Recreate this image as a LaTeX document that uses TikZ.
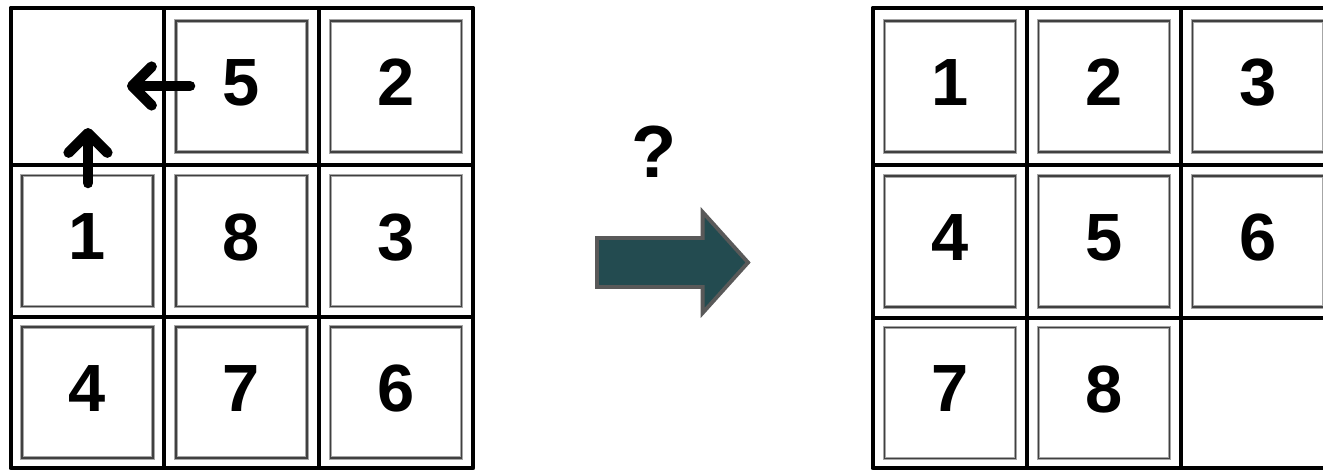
\documentclass[tikz,border=0pt]{standalone}
\usepackage{fontspec}
\setmainfont{Liberation Sans}
\usetikzlibrary{arrows.meta,shapes.arrows}
\definecolor{slate}{HTML}{234B50}
\definecolor{rim}{HTML}{595959}
\tikzset{
  grid/.style={line width=1.4pt, line join=round},
  tile/.style={draw=black!75, line width=0.35pt, preaction={draw=gray!70, line width=1.1pt},
    minimum width=1.31cm, minimum height=1.31cm, inner sep=0pt, text depth=0.08cm,
    font=\fontsize{19pt}{19pt}\selectfont\bfseries},
  move/.style={line width=3pt, line cap=round, line join=round,
    -{Straight Barb[length=5.5pt,width=11pt,round]}},
}
\begin{document}
\begin{tikzpicture}[x=0.01cm, y=-0.01cm]
\clip (0,0) rectangle (1323,470);
% start board
\draw[grid] (11,8) rectangle (473,468);
\draw[grid] (164,8) -- (164,468);
\draw[grid] (319,8) -- (319,468);
\draw[grid] (11,165) -- (473,165);
\draw[grid] (11,317) -- (473,317);
\node[tile] (a5) at (241.5,86.5) {5};
\node[tile] (a2) at (396,86.5) {2};
\node[tile] (a1) at (87.5,241) {1};
\node[tile] (a8) at (241.5,241) {8};
\node[tile] (a3) at (396,241) {3};
\node[tile] (a4) at (87.5,392.5) {4};
\node[tile] (a7) at (241.5,392.5) {7};
\node[tile] (a6) at (396,392.5) {6};
% possible moves into the gap
\coordinate (m5) at (190,86);
\coordinate (g5) at (127,86);
\coordinate (m1) at (88,183);
\coordinate (g1) at (88,128);
\draw[move] (m5) -- (g5);
\draw[move] (m1) -- (g1);
% goal board
\draw[grid] (873,8) rectangle (1335,468);
\draw[grid] (1027,8) -- (1027,468);
\draw[grid] (1181,8) -- (1181,468);
\draw[grid] (873,165) -- (1335,165);
\draw[grid] (873,318) -- (1335,318);
\node[tile] (b1) at (950,86.5) {1};
\node[tile] (b2) at (1104,86.5) {2};
\node[tile] (b3) at (1258,86.5) {3};
\node[tile] (b4) at (950,241.5) {4};
\node[tile] (b5) at (1104,241.5) {5};
\node[tile] (b6) at (1258,241.5) {6};
\node[tile] (b7) at (950,393) {7};
\node[tile] (b8) at (1104,393) {8};
% how?
\node[font=\fontsize{21pt}{21pt}\selectfont\bfseries] (ask) at (654,152) {?};
\node[single arrow, draw=rim, fill=slate, line width=1.1pt, inner xsep=0pt, inner ysep=0.225cm,
  minimum height=1.51cm, minimum width=0.97cm, single arrow head extend=0.26cm,
  single arrow tip angle=96] (go) at (661.5,262.5) {};
\end{tikzpicture}
\end{document}
